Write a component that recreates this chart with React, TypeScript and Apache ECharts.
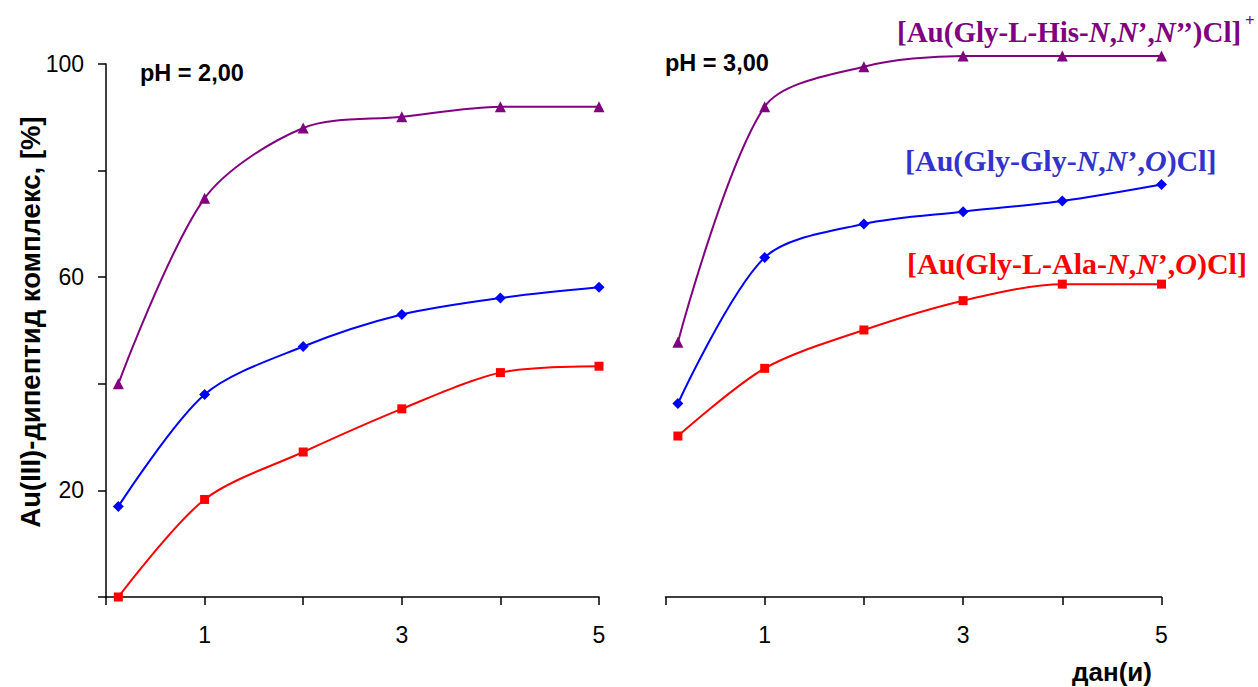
import React, { useEffect, useRef } from "react";
import * as echarts from "echarts";

// ---- data ----
const xDays = [0.125, 1, 2, 3, 4, 5];
const ph2His = [40, 74.8, 88, 90.1, 92, 92];
const ph2GlyGly = [17, 38, 47, 53, 56.1, 58.1];
const ph2Ala = [0, 18.3, 27.2, 35.3, 42.1, 43.3];
const ph3His = [47.8, 92, 99.5, 101.5, 101.5, 101.5];
const ph3GlyGly = [36.3, 63.7, 70, 72.3, 74.3, 77.4];
const ph3Ala = [30.2, 42.9, 50.1, 55.6, 58.7, 58.7];
const yTickLabels = [20, 60, 100];
const xTickLabels = [1, 3, 5];
const panelTitles = ["pH = 2,00", "pH = 3,00"];
const yAxisTitle = "Au(III)-дипептид комплекс, [%]";
const xAxisTitle = "дан(и)";

const PURPLE = "#800080";
const BLUE = "#0000FF";
const RED = "#FF0000";
const SANS = '"Liberation Sans", Arial, sans-serif';
const SERIF = '"Liberation Serif", "Times New Roman", serif';

const pts = (vals: number[]) => xDays.map((x, i) => [x, vals[i]]);

function mkSeries(name: string, vals: number[], color: string, symbol: string, size: number, idx: number) {
  return {
    name,
    type: "line",
    xAxisIndex: idx,
    yAxisIndex: idx,
    data: pts(vals),
    smooth: 0.3,
    clip: false,
    symbol,
    symbolSize: size,
    itemStyle: { color },
    lineStyle: { color, width: 2 },
  };
}

const axisCommon = {
  axisLine: { lineStyle: { color: "#000", width: 1.5 } },
  axisTick: { lineStyle: { color: "#000", width: 1.5 }, length: 8 },
  splitLine: { show: false },
};

function xAxisDef(idx: number) {
  return {
    type: "value",
    gridIndex: idx,
    min: 0,
    max: 5,
    interval: 1,
    ...axisCommon,
    axisLabel: {
      color: "#000",
      fontFamily: SANS,
      fontSize: 23,
      margin: 26,
      formatter: (v: number) => (xTickLabels.includes(v) ? String(v) : ""),
    },
  };
}

export default function App() {
  const ref = useRef<HTMLDivElement>(null);
  useEffect(() => {
    if (!ref.current) return;
    const chart = echarts.init(ref.current, undefined, { renderer: "svg" });
    const formula = (x: number, y: number, text: string, fill: string, size: number) => ({
      type: "text",
      x,
      y,
      style: {
        text,
        fill,
        textAlign: "left",
        textVerticalAlign: "middle",
        font: `bold ${size}px ${SERIF}`,
        rich: {
          b: { fontFamily: SERIF, fontWeight: "bold", fontSize: size, fill },
          i: { fontFamily: SERIF, fontWeight: "bold", fontStyle: "italic", fontSize: size, fill },
        },
      },
    });
    chart.setOption({
      animation: false,
      backgroundColor: "#fff",
      grid: [
        { left: 106, top: 64, width: 493, height: 533 },
        { left: 665.5, top: 64, width: 496, height: 533 },
      ],
      xAxis: [xAxisDef(0), xAxisDef(1)],
      yAxis: [
        {
          type: "value",
          gridIndex: 0,
          min: 0,
          max: 100,
          interval: 20,
          ...axisCommon,
          axisLabel: {
            color: "#000",
            fontFamily: SANS,
            fontSize: 23,
            margin: 22,
            formatter: (v: number) => (yTickLabels.includes(v) ? String(v) : ""),
          },
        },
        { type: "value", gridIndex: 1, min: 0, max: 100, show: false, splitLine: { show: false } },
      ],
      series: [
        mkSeries("ph2Ala", ph2Ala, RED, "rect", 9, 0),
        mkSeries("ph2GlyGly", ph2GlyGly, BLUE, "diamond", 11, 0),
        mkSeries("ph2His", ph2His, PURPLE, "triangle", 11, 0),
        mkSeries("ph3Ala", ph3Ala, RED, "rect", 9, 1),
        mkSeries("ph3GlyGly", ph3GlyGly, BLUE, "diamond", 11, 1),
        mkSeries("ph3His", ph3His, PURPLE, "triangle", 11, 1),
      ],
      graphic: [
        {
          type: "text",
          x: 30,
          y: 322,
          rotation: Math.PI / 2,
          style: {
            text: yAxisTitle,
            fill: "#000",
            font: `bold 27.5px ${SANS}`,
            textAlign: "center",
            textVerticalAlign: "middle",
          },
        },
        {
          type: "text",
          x: 140,
          y: 73,
          style: { text: panelTitles[0], fill: "#000", font: `bold 23.5px ${SANS}`, textAlign: "left", textVerticalAlign: "middle" },
        },
        {
          type: "text",
          x: 665,
          y: 63,
          style: { text: panelTitles[1], fill: "#000", font: `bold 23.5px ${SANS}`, textAlign: "left", textVerticalAlign: "middle" },
        },
        {
          type: "text",
          x: 1112,
          y: 672,
          style: { text: xAxisTitle, fill: "#000", font: `bold 26px ${SANS}`, textAlign: "center", textVerticalAlign: "middle" },
        },
        formula(897, 32, "{b|[Au(Gly-L-His-}{i|N}{b|,}{i|N}{b|’,}{i|N}{b|’’)Cl]}", PURPLE, 29),
        {
          type: "text",
          x: 1245,
          y: 20,
          style: { text: "+", fill: PURPLE, font: `bold 17px ${SERIF}`, textAlign: "left", textVerticalAlign: "middle" },
        },
        formula(905, 160, "{b|[Au(Gly-Gly-}{i|N}{b|,}{i|N}{b|’,}{i|O}{b|)Cl]}", "#3333CC", 30),
        formula(907, 263, "{b|[Au(Gly-L-Ala-}{i|N}{b|,}{i|N}{b|’,}{i|O}{b|)Cl]}", RED, 30),
      ],
    });
    return () => chart.dispose();
  }, []);
  return <div ref={ref} style={{ position: "fixed", left: 0, top: 0, width: 1258, height: 687 }} />;
}
